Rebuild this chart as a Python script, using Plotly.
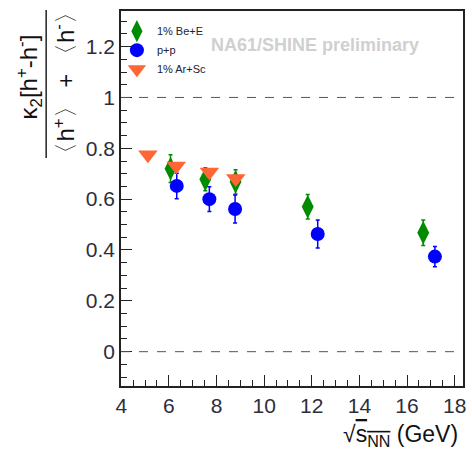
import plotly.graph_objects as go

# data
be_x = [6.07, 7.53, 8.80, 11.83, 16.68]
be_y = [0.720, 0.678, 0.668, 0.570, 0.468]
be_e = [0.055, 0.045, 0.048, 0.048, 0.050]

pp_x = [6.33, 7.70, 8.78, 12.25, 17.17]
pp_y = [0.652, 0.600, 0.561, 0.463, 0.374]
pp_e = [0.050, 0.049, 0.055, 0.055, 0.040]

ar_x = [5.12, 6.31, 7.70, 8.81]
ar_y = [0.775, 0.730, 0.707, 0.681]

x_ticks = [4, 6, 8, 10, 12, 14, 16, 18]
y_ticks = [0, 0.2, 0.4, 0.6, 0.8, 1.0, 1.2]
y_ticktext = ["0", "0.2", "0.4", "0.6", "0.8", "1", "1.2"]

FONT = "Liberation Sans, Arial, Helvetica, sans-serif"
TXT = "#2e2e3a"

fig = go.Figure()
fig.add_trace(go.Scatter(
    x=be_x, y=be_y, mode="markers", name="1% Be+E",
    marker=dict(symbol="diamond-tall", size=17, color="#008c00"),
    error_y=dict(type="data", array=be_e, color="#008c00", thickness=1.5, width=2),
))
fig.add_trace(go.Scatter(
    x=pp_x, y=pp_y, mode="markers", name="p+p",
    marker=dict(symbol="circle", size=14, color="#0000ff"),
    error_y=dict(type="data", array=pp_e, color="#0000ff", thickness=1.5, width=2),
))
fig.add_trace(go.Scatter(
    x=ar_x, y=ar_y, mode="markers", name="1% Ar+Sc",
    marker=dict(symbol="triangle-down", size=17, color="#ff6633"),
))

for yv in [0, 1]:
    fig.add_shape(type="line", xref="paper", x0=0, x1=1, yref="y", y0=yv, y1=yv,
                  line=dict(color="#555555", width=1, dash="dash"))

# fraction bar of y title
fig.add_shape(type="line", xref="paper", yref="paper",
              x0=(45.5 - 121) / 345, x1=(45.5 - 121) / 345, y0=0.608, y1=1.003,
              line=dict(color="#222222", width=1.5))

fig.add_annotation(xref="paper", yref="paper", x=(28 - 121) / 345, y=0.825,
                   text="κ<sub>2</sub>[h<sup>+</sup>-h<sup>-</sup>]", textangle=-90,
                   showarrow=False, font=dict(family=FONT, size=24, color="#111111"),
                   xanchor="center", yanchor="middle")
fig.add_annotation(xref="paper", yref="paper", x=(63 - 121) / 345, y=0.808,
                   text="〈h<sup>+</sup>〉 + 〈h<sup>-</sup>〉", textangle=-90,
                   showarrow=False, font=dict(family=FONT, size=24, color="#111111"),
                   xanchor="center", yanchor="middle")

fig.add_annotation(xref="paper", yref="paper", x=(463 - 121) / 345, y=-0.133,
                   text="√<span style='text-decoration:overline'>s<sub>NN</sub></span> (GeV)",
                   showarrow=False, font=dict(family=FONT, size=23, color="#111111"),
                   xanchor="right", yanchor="middle")

fig.add_annotation(xref="paper", yref="paper", x=(317 - 121) / 345, y=(386 - 45) / 375,
                   text="<b>NA61/SHINE preliminary</b>",
                   showarrow=False, font=dict(family=FONT, size=18, color="#d0d0d0"),
                   xanchor="center", yanchor="middle")

fig.update_layout(
    width=472, height=452,
    margin=dict(l=121, r=6, t=11, b=66),
    paper_bgcolor="white", plot_bgcolor="white",
    font=dict(family=FONT, color=TXT),
    showlegend=True,
    legend=dict(x=-0.012, y=0.985, xanchor="left", yanchor="top",
                bgcolor="rgba(0,0,0,0)", font=dict(family=FONT, size=11, color="#222233"),
                itemwidth=30, tracegroupgap=0),
)
fig.update_xaxes(range=[3.99, 18.35], tickvals=x_ticks, ticks="inside", ticklen=11,
                 tickwidth=1, tickcolor="#222", showline=True, linecolor="#222", linewidth=1.5,
                 mirror=True, showgrid=False, zeroline=False,
                 tickfont=dict(size=21, color=TXT),
                 minor=dict(dtick=0.5, ticks="inside", ticklen=6, tickcolor="#222", showgrid=False))
fig.update_yaxes(range=[-0.135, 1.34], tickvals=y_ticks, ticktext=y_ticktext,
                 ticks="inside", ticklen=11,
                 tickwidth=1, tickcolor="#222", showline=True, linecolor="#222", linewidth=1.5,
                 mirror=True, showgrid=False, zeroline=False,
                 tickfont=dict(size=21, color=TXT),
                 minor=dict(dtick=0.05, ticks="inside", ticklen=6, tickcolor="#222", showgrid=False))

fig.write_html("out.html", config={"displayModeBar": False},
               post_script="document.body.style.margin='0';document.body.style.padding='0';")
